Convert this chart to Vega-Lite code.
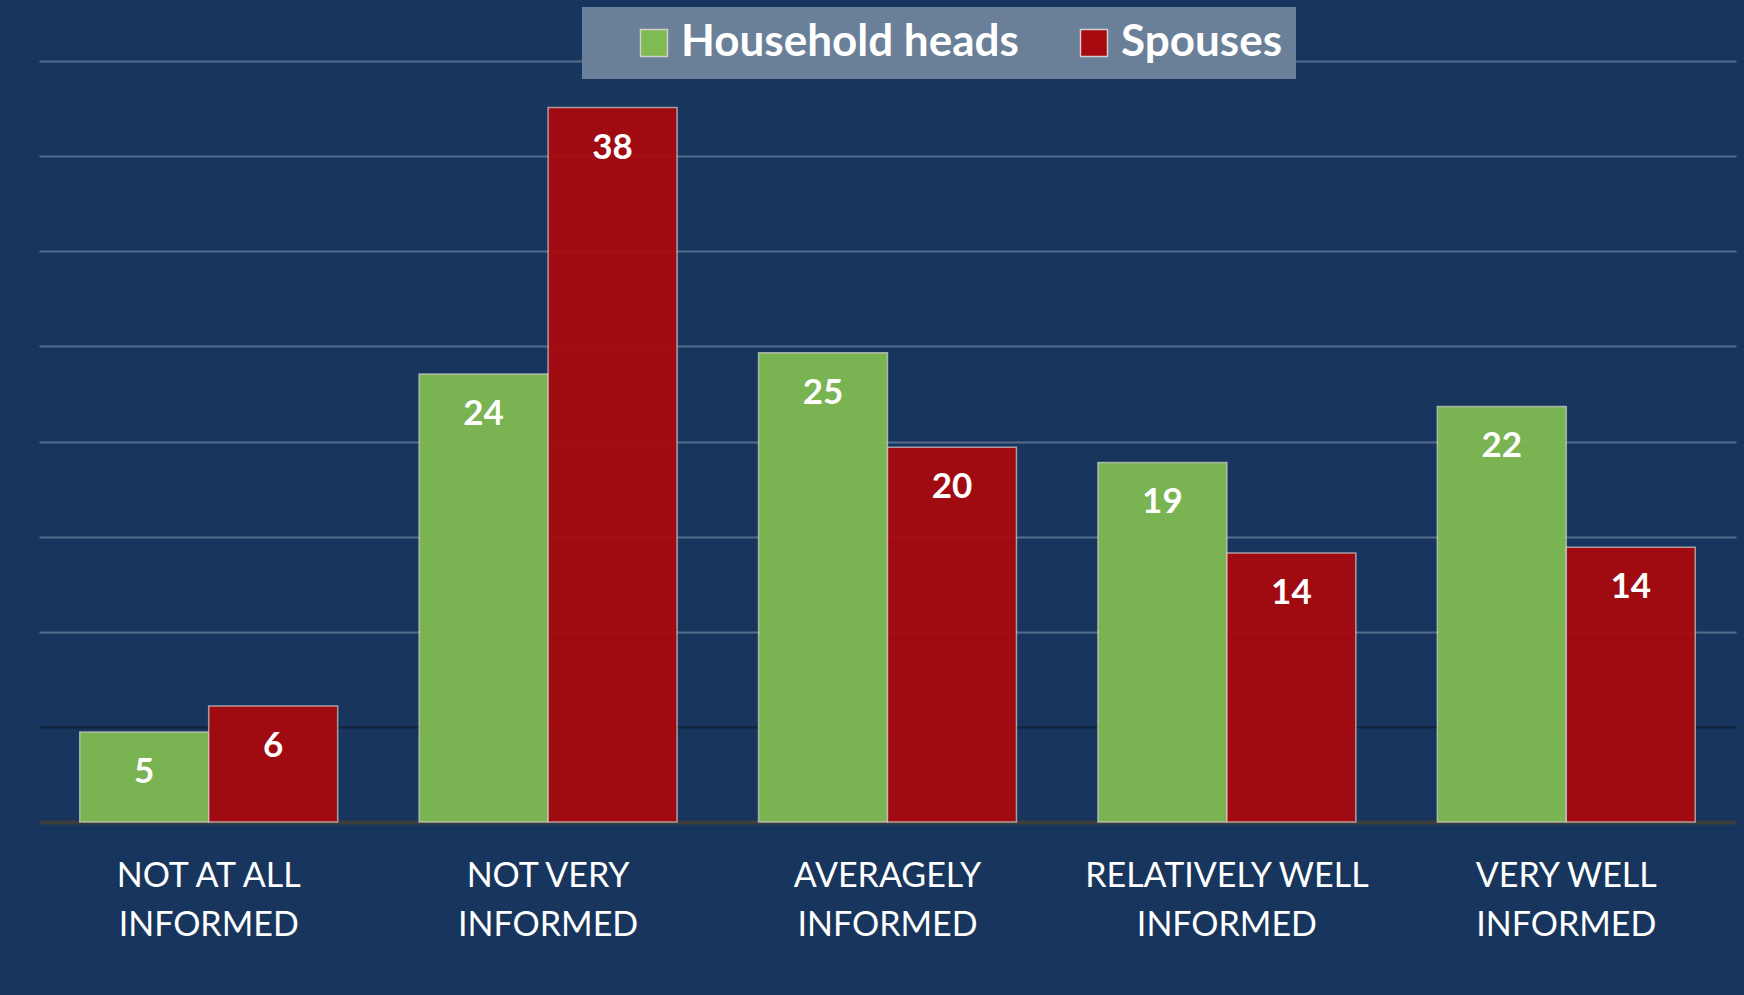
{
  "$schema": "https://vega.github.io/schema/vega-lite/v6.json",
  "autosize": {"type": "none"},
  "width": 1697,
  "height": 761,
  "padding": {"left": 39, "top": 61, "right": 8, "bottom": 173},
  "background": "#18365d",
  "view": {"stroke": null},
  "data": {
    "values": [
      {"category": "NOT AT ALL INFORMED", "group": "Household heads", "value": 4.73},
      {"category": "NOT AT ALL INFORMED", "group": "Spouses", "value": 6.1},
      {"category": "NOT VERY INFORMED", "group": "Household heads", "value": 23.55},
      {"category": "NOT VERY INFORMED", "group": "Spouses", "value": 37.55},
      {"category": "AVERAGELY INFORMED", "group": "Household heads", "value": 24.67},
      {"category": "AVERAGELY INFORMED", "group": "Spouses", "value": 19.7},
      {"category": "RELATIVELY WELL INFORMED", "group": "Household heads", "value": 18.9},
      {"category": "RELATIVELY WELL INFORMED", "group": "Spouses", "value": 14.14},
      {"category": "VERY WELL INFORMED", "group": "Household heads", "value": 21.84},
      {"category": "VERY WELL INFORMED", "group": "Spouses", "value": 14.44}
    ]
  },
  "encoding": {
    "x": {
      "field": "category",
      "type": "nominal",
      "sort": null,
      "scale": {"paddingInner": 0.24, "paddingOuter": 0.12},
      "axis": {
        "title": null,
        "labelAngle": 0,
        "labelExpr": "[replace(datum.label, ' INFORMED', ''), 'INFORMED']",
        "labelFont": "Lato",
        "labelFontSize": 34,
        "labelColor": "#ffffff",
        "labelLineHeight": 49,
        "labelPadding": 37,
        "labelBaseline": "top",
        "ticks": false,
        "domain": true,
        "domainColor": "#3d3d3d",
        "domainWidth": 4,
        "grid": false,
        "labelLimit": 400
      }
    },
    "xOffset": {
      "field": "group",
      "type": "nominal",
      "sort": ["Household heads", "Spouses"],
      "scale": {"paddingInner": 0, "paddingOuter": 0}
    },
    "y": {
      "field": "value",
      "type": "quantitative",
      "scale": {"domain": [0, 40], "nice": false},
      "axis": {
        "title": null,
        "labels": false,
        "ticks": false,
        "domain": false,
        "grid": true,
        "values": [5, 10, 15, 20, 25, 30, 35, 40],
        "gridColor": {"condition": {"test": "datum.value === 5", "value": "#0f2236"}, "value": "#566c8c"},
        "gridWidth": 2
      }
    }
  },
  "layer": [
    {
      "mark": {"type": "bar", "opacity": 0.95, "stroke": "#d9d9d9", "strokeWidth": 1.5, "strokeOpacity": 0.7},
      "encoding": {
        "color": {
          "field": "group",
          "type": "nominal",
          "sort": ["Household heads", "Spouses"],
          "scale": {"domain": ["Household heads", "Spouses"], "range": ["#80ba52", "#a8090e"]},
          "legend": {
            "title": null,
            "orient": "none",
            "direction": "horizontal",
            "legendX": 543,
            "legendY": -54,
            "fillColor": "#6a7f98",
            "padding": 14,
            "symbolType": "square",
            "symbolSize": 729,
            "symbolStrokeColor": "#d0d0d0",
            "symbolStrokeWidth": 1.5,
            "symbolOpacity": 1,
            "symbolOffset": 36,
            "labelOffset": 5,
            "columnPadding": 17,
            "labelFont": "Lato",
            "labelFontSize": 44,
            "labelFontWeight": "bold",
            "labelColor": "#ffffff",
            "labelLimit": 500
          }
        }
      }
    },
    {
      "mark": {"type": "text", "baseline": "middle", "dy": 40, "font": "Lato", "fontSize": 35, "fontWeight": "bold", "color": "#ffffff"},
      "encoding": {
        "text": {"field": "value", "type": "quantitative", "format": ".0f"}
      }
    }
  ]
}
